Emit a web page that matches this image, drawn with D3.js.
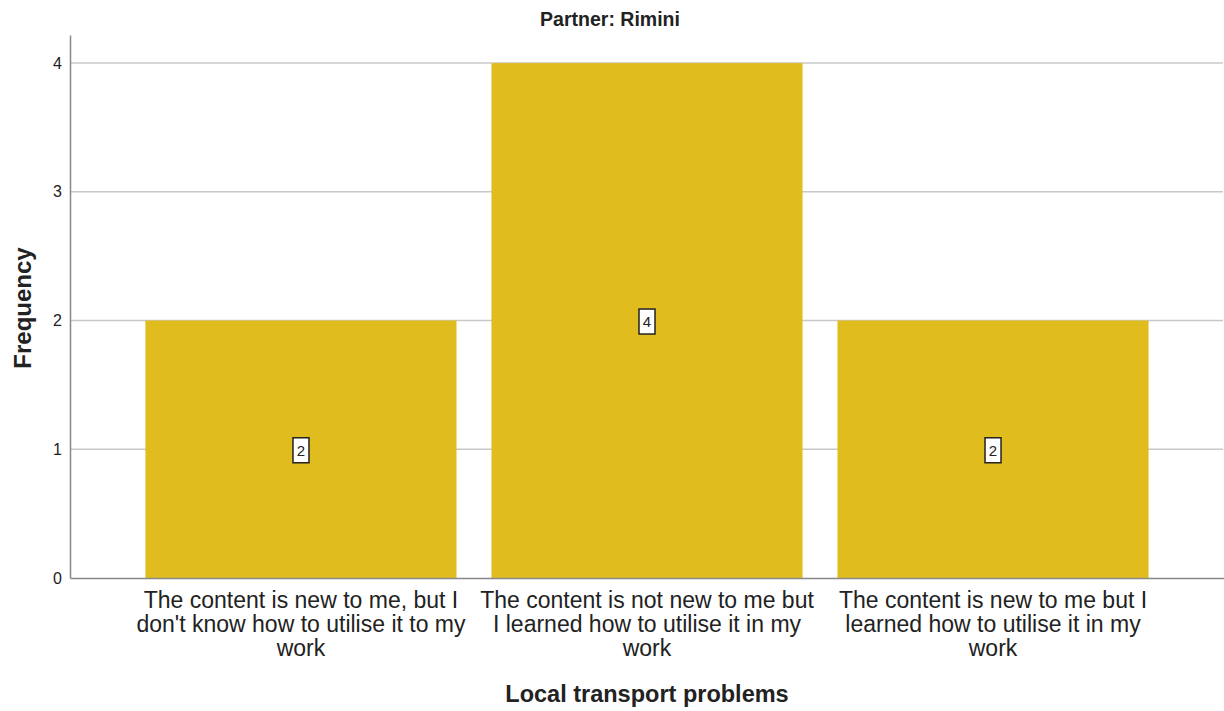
<!DOCTYPE html>
<html>
<head>
<meta charset="utf-8">
<script src="https://cdn.jsdelivr.net/npm/d3@7"></script>
<style>
  body { margin: 0; background: #fff; }
  svg { display: block; }
</style>
</head>
<body>
<svg id="chart" width="1224" height="711"></svg>
<script>
const categories = [
  ["The content is new to me, but I", "don't know how to utilise it to my", "work"],
  ["The content is not new to me but", "I learned how to utilise it in my", "work"],
  ["The content is new to me but I", "learned how to utilise it in my", "work"]
];
const counts = [2, 4, 2];
const yTicks = [0, 1, 2, 3, 4];

const svg = d3.select("#chart");
const margin = { left: 70, right: 0, top: 35, bottom: 133 };
const width = 1224, height = 711;
const font = "Liberation Sans, Arial, sans-serif";

const x = d3.scaleBand()
  .domain(d3.range(categories.length))
  .range([margin.left, width - margin.right])
  .paddingInner(0.101)
  .paddingOuter(0.218);

const y = d3.scaleLinear()
  .domain([0, 4.218])
  .range([height - margin.bottom, margin.top]);

// gridlines
svg.append("g")
  .selectAll("line")
  .data(yTicks.slice(1))
  .join("line")
  .attr("x1", margin.left)
  .attr("x2", width - 1)
  .attr("y1", d => y(d))
  .attr("y2", d => y(d))
  .attr("stroke", "#c8c8c8")
  .attr("stroke-width", 1.5);

// bars
svg.append("g")
  .selectAll("rect")
  .data(counts)
  .join("rect")
  .attr("x", (d, i) => x(i))
  .attr("y", d => y(d))
  .attr("width", x.bandwidth())
  .attr("height", d => y(0) - y(d))
  .attr("fill", "#e1bc1f");

// y axis
const yAxis = d3.axisLeft(y).tickValues(yTicks).tickSize(0).tickPadding(8).tickFormat(d3.format("d"));
const gy = svg.append("g")
  .attr("transform", `translate(${margin.left},0)`)
  .call(yAxis);
gy.select(".domain").attr("stroke", "#888").attr("stroke-width", 1.5);
gy.selectAll("text").attr("font-family", font).attr("font-size", 16).attr("fill", "#222");

// x axis
const xAxis = d3.axisBottom(x).tickSize(0).tickFormat("");
const gx = svg.append("g")
  .attr("transform", `translate(0,${y(0)})`)
  .call(xAxis);
gx.select(".domain").attr("stroke", "#888").attr("stroke-width", 1.5);

// category labels
const labels = svg.append("g")
  .selectAll("text")
  .data(categories)
  .join("text")
  .attr("text-anchor", "middle")
  .attr("font-family", font)
  .attr("font-size", 23)
  .attr("fill", "#222")
  .attr("transform", (d, i) => `translate(${x(i) + x.bandwidth() / 2},${y(0) + 30})`);
labels.selectAll("tspan")
  .data(d => d)
  .join("tspan")
  .attr("x", 0)
  .attr("dy", (d, i) => i === 0 ? 0 : 24)
  .text(d => d);

// value labels
const vl = svg.append("g")
  .selectAll("g")
  .data(counts)
  .join("g")
  .attr("transform", (d, i) => `translate(${x(i) + x.bandwidth() / 2},${y(d / 2) + 1})`);
vl.append("rect")
  .attr("x", -8).attr("y", -12.5)
  .attr("width", 16).attr("height", 25)
  .attr("fill", "#fff")
  .attr("stroke", "#222")
  .attr("stroke-width", 1.5);
vl.append("text")
  .attr("text-anchor", "middle")
  .attr("dy", "0.36em")
  .attr("font-family", font)
  .attr("font-size", 15)
  .attr("fill", "#222")
  .text(d => d);

// titles
svg.append("text")
  .attr("x", 610)
  .attr("y", 26)
  .attr("text-anchor", "middle")
  .attr("font-family", font)
  .attr("font-weight", "bold")
  .attr("font-size", 19.5)
  .attr("fill", "#222")
  .text("Partner: Rimini");

svg.append("text")
  .attr("x", x(1) + x.bandwidth() / 2)
  .attr("y", 702)
  .attr("text-anchor", "middle")
  .attr("font-family", font)
  .attr("font-weight", "bold")
  .attr("font-size", 23.5)
  .attr("fill", "#222")
  .text("Local transport problems");

svg.append("text")
  .attr("transform", `translate(31,308) rotate(-90)`)
  .attr("text-anchor", "middle")
  .attr("font-family", font)
  .attr("font-weight", "bold")
  .attr("font-size", 24)
  .attr("fill", "#222")
  .text("Frequency");
</script>
</body>
</html>
